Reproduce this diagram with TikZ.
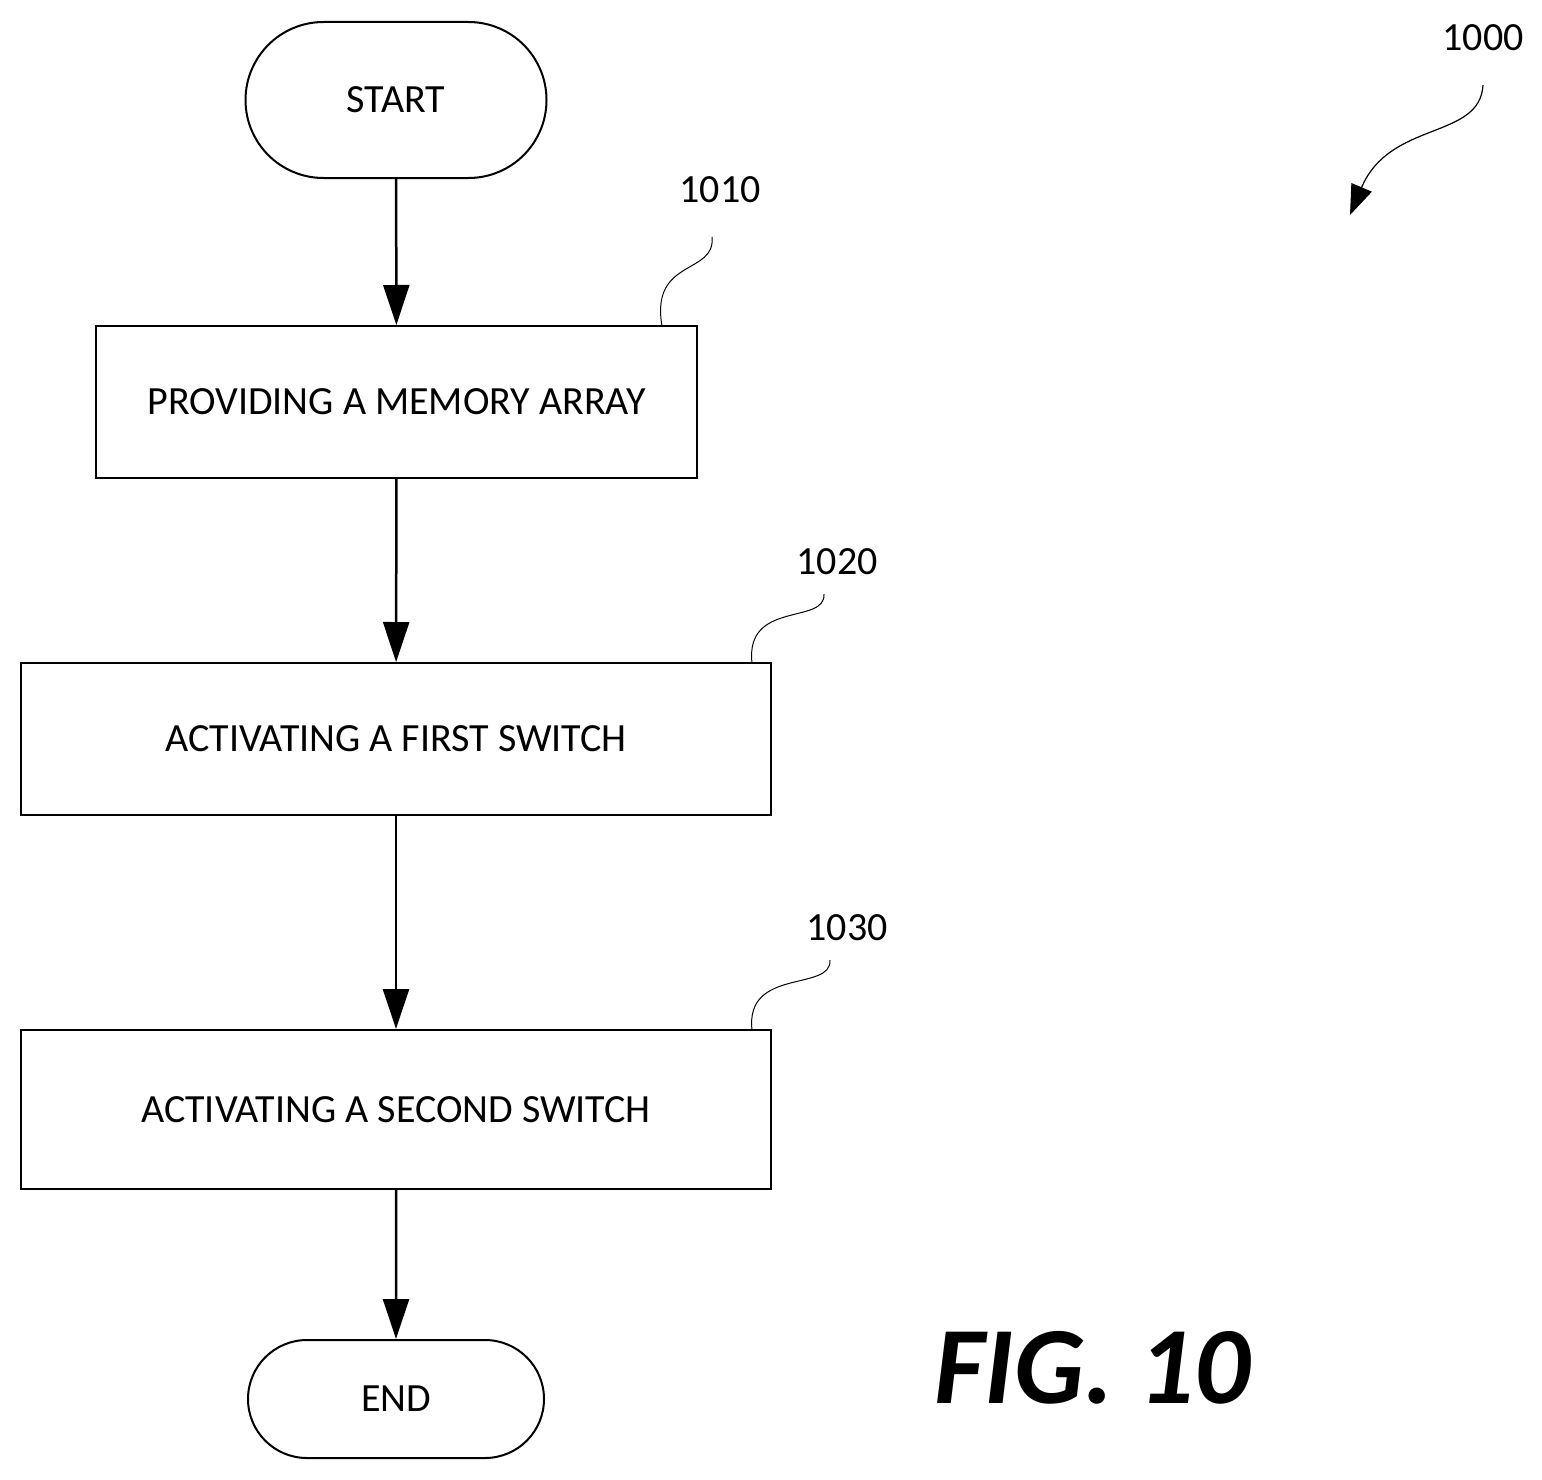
\documentclass[tikz,border=0pt]{standalone}
\usepackage{fontspec}
\setmainfont{Carlito}
\usetikzlibrary{arrows.meta,shapes.misc}
\begin{document}
\begin{tikzpicture}[x=1pt,y=-1pt,
  box/.style={draw,line width=2pt,minimum width=#1,font=\fontsize{40}{44}\selectfont,inner sep=0pt},
  term/.style={draw,line width=2pt,rounded rectangle,font=\fontsize{40}{44}\selectfont,inner sep=0pt},
  flow/.style={line width=2.5pt,-{Triangle[length=40pt,width=26pt]}},
  lead/.style={line width=1pt},
  lab/.style={font=\fontsize{40}{44}\selectfont}]
\useasboundingbox (0,0) rectangle (1542,1480);
\node[term,minimum width=301pt,minimum height=156pt] (start) at (396,100) {START};
\node[box=601pt,minimum height=152pt] (b1) at (396.5,402) {PROVIDING A MEMORY ARRAY};
\node[box=750pt,minimum height=152pt] (b2) at (396,739) {ACTIVATING A FIRST SWITCH};
\node[box=750pt,minimum height=159pt] (b3) at (396,1109.5) {ACTIVATING A SECOND SWITCH};
\node[term,minimum width=296pt,minimum height=118pt] (end) at (396,1399) {END};
\draw[flow] (start) -- (b1);
\draw[flow] (b1) -- (b2);
\draw[flow] (b2) -- (b3);
\draw[flow] (b3) -- (end);
\node[lab] (l1) at (720,190) {1010};
\node[lab] (l2) at (837,562) {1020};
\node[lab] (l3) at (847,928) {1030};
\node[lab] (l0) at (1483,38) {1000};
\coordinate (s1) at (712,237);
\coordinate (s2) at (824,594);
\coordinate (s3) at (830,960);
\draw[lead] (s1) .. controls (716,275) and (650,258) .. (662,326);
\draw[lead] (s2) .. controls (826,625) and (745,600) .. (752,663);
\draw[lead] (s3) .. controls (832,992) and (745,967) .. (752,1030);
\coordinate (a0) at (1483,85);
\coordinate (a1) at (1350,215);
\draw[line width=1.2pt,-{Triangle[length=30pt,width=22pt]}] (a0) .. controls (1480,140) and (1390,120) .. (a1);
\node[font=\fontsize{110}{120}\selectfont\bfseries\itshape] (fig) at (1092,1368) {FIG. 10};
\end{tikzpicture}
\end{document}
